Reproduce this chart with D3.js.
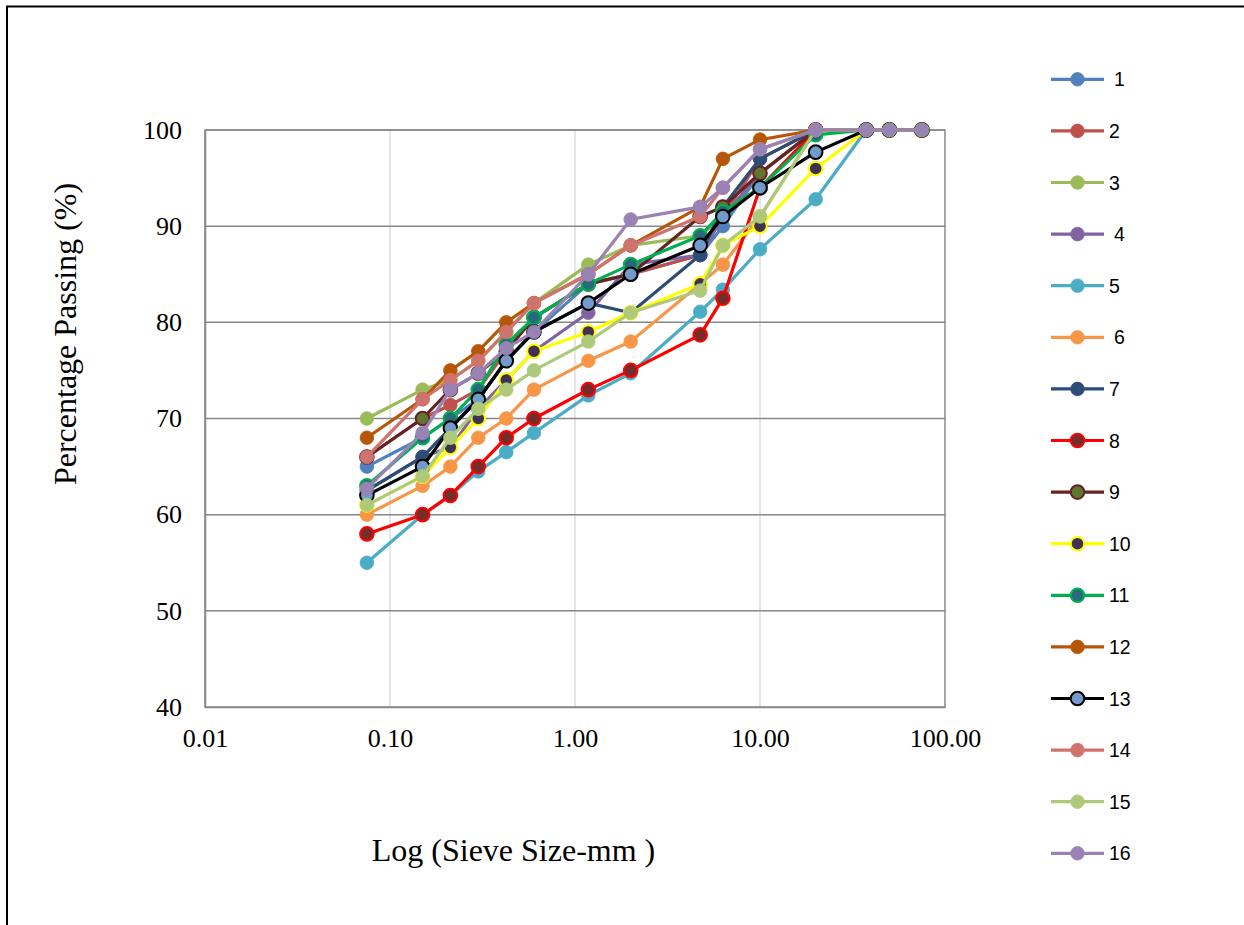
<!DOCTYPE html>
<html><head><meta charset="utf-8">
<script src="https://cdn.jsdelivr.net/npm/d3@7"></script>
<style>body{margin:0;background:#fff}svg{display:block}</style>
</head><body>
<svg id="c" width="1244" height="925"></svg>
<script>
const sieve = [0.075, 0.15, 0.212, 0.3, 0.425, 0.6, 1.18, 2.0, 4.75, 6.3, 10, 20, 37.5, 50, 75];
const s1  = [65, 68, 70, 72, 76, 79, 84, 85, 87, 90, 95.5, 100, 100, 100, 100];
const s2  = [66, 70, 71.4, 73, 77, 80.5, 84, 85, 87, 91, 97, 100, 100, 100, 100];
const s3  = [70, 73, 74, 76, 79, 82, 86, 88, 89, 91, 95.5, 100, 100, 100, 100];
const s4  = [62.5, 66, 67, 71, 74, 77, 81, 86, 87, 91, 95.5, 100, 100, 100, 100];
const s5  = [55, 60, 62, 64.5, 66.5, 68.5, 72.4, 74.7, 81.1, 83.4, 87.6, 92.8, 100, 100, 100];
const s6  = [60, 63, 65, 68, 70, 73, 76, 78, 84, 86, 91, 100, 100, 100, 100];
const s7  = [62.5, 66, 69, 72, 76, 79, 82, 81, 87, 92, 97, 100, 100, 100, 100];
const s8  = [58, 60, 62, 65, 68, 70, 73, 75, 78.7, 82.5, 94, 100, 100, 100, 100];
const s9  = [66, 70, 73, 74.7, 77, 80.5, 84, 85, 91, 92, 95.5, 100, 100, 100, 100];
const s10 = [61, 64, 67, 70, 74, 77, 79, 81, 84, 88, 90, 96, 100, 100, 100];
const s11 = [63, 68, 70, 73, 77.7, 80.5, 84, 86, 89, 91.5, 94, 99.5, 100, 100, 100];
const s12 = [68, 72, 75, 77, 80, 82, 85, 88, 92, 97, 99, 100, 100, 100, 100];
const s13 = [62, 65, 69, 72, 76, 79, 82, 85, 88, 91, 94, 97.7, 100, 100, 100];
const s14 = [66, 72, 74, 76, 79, 82, 85, 88, 91, 94, 98, 100, 100, 100, 100];
const s15 = [61, 64, 68, 71, 73, 75, 78, 81, 83.3, 88, 91, 100, 100, 100, 100];
const s16 = [62.7, 68.5, 73, 74.7, 77.3, 79, 85, 90.7, 92, 94, 98, 100, 100, 100, 100];
const seriesNames = ["1","2","3","4","5","6","7","8","9","10","11","12","13","14","15","16"];
const yTicks = [40, 50, 60, 70, 80, 90, 100];
const xTicks = [0.01, 0.1, 1, 10, 100];
const xTickLabels = ["0.01", "0.10", "1.00", "10.00", "100.00"];

const allSeries = [s1,s2,s3,s4,s5,s6,s7,s8,s9,s10,s11,s12,s13,s14,s15,s16];
// line colour, marker fill, marker stroke
const styles = [
  ["#4F81BD","#4F81BD","#4F81BD"],
  ["#C0504D","#C0504D","#C0504D"],
  ["#9BBB59","#9BBB59","#9BBB59"],
  ["#8064A2","#8064A2","#8064A2"],
  ["#4BACC6","#4BACC6","#4BACC6"],
  ["#F79646","#F79646","#F79646"],
  ["#2C4D75","#2C4D75","#2C4D75"],
  ["#FF0000","#772C2A","#FF0000"],
  ["#632523","#5F7530","#632523"],
  ["#FFFF00","#403152","#FFFF00"],
  ["#00B050","#276A7C","#00B050"],
  ["#B65708","#B65708","#B65708"],
  ["#000000","#729ACA","#000000"],
  ["#D0736F","#D0736F","#D0736F"],
  ["#AFC97A","#AFC97A","#AFC97A"],
  ["#9983B5","#9983B5","#9983B5"]
];
const serif = "'Liberation Serif','Times New Roman',serif";

const svg = d3.select("#c");
// outer frame
svg.append("path").attr("d","M7,925 V6.5 H1244").attr("fill","none").attr("stroke","#000").attr("stroke-width",2);

const x = d3.scaleLog().domain([0.01, 100]).range([205, 945]);
const y = d3.scaleLinear().domain([40, 100]).range([707, 130]);

// vertical gridlines
svg.append("g").selectAll("line").data([0.1,1,10]).join("line")
  .attr("x1", d=>x(d)).attr("x2", d=>x(d)).attr("y1",130).attr("y2",707)
  .attr("stroke","#D9D9D9").attr("stroke-width",1.3);
// horizontal gridlines
svg.append("g").selectAll("line").data(yTicks.filter(d=>d>40)).join("line")
  .attr("x1",205).attr("x2",945).attr("y1",d=>y(d)).attr("y2",d=>y(d))
  .attr("stroke","#878787").attr("stroke-width",1.5);
// plot-area border
svg.append("rect").attr("x",205).attr("y",130).attr("width",740).attr("height",577)
  .attr("fill","none").attr("stroke","#898989").attr("stroke-width",1.5);

// axes
const yAxis = d3.axisLeft(y).tickValues(yTicks).tickSize(0).tickPadding(23);
const gy = svg.append("g").attr("transform","translate(205,0)").call(yAxis);
gy.select(".domain").attr("stroke","#878787").attr("stroke-width",1.5);
gy.selectAll("text").attr("font-family",serif).attr("font-size",26).attr("fill","#000");

const xAxis = d3.axisBottom(x).tickValues(xTicks).tickFormat((d,i)=>xTickLabels[i]).tickSize(0).tickPadding(22);
const gx = svg.append("g").attr("transform","translate(0,707)").call(xAxis);
gx.select(".domain").attr("stroke","#878787").attr("stroke-width",1.5);
gx.selectAll("text").attr("font-family",serif).attr("font-size",26).attr("fill","#000");

// titles
svg.append("text").attr("transform","translate(76,334) rotate(-90)").attr("text-anchor","middle")
  .attr("font-family",serif).attr("font-size",32).text("Percentage Passing (%)");
svg.append("text").attr("x",513.5).attr("y",861).attr("text-anchor","middle")
  .attr("font-family",serif).attr("font-size",32).text("Log (Sieve Size-mm )");

// series
const line = d3.line().x(d=>x(d[0])).y(d=>y(d[1]));
allSeries.forEach((vals, i) => {
  const pts = sieve.map((s, j) => [s, vals[j]]);
  const st = styles[i];
  const g = svg.append("g");
  g.append("path").datum(pts).attr("d", line).attr("fill","none")
    .attr("stroke", st[0]).attr("stroke-width", 3.2).attr("stroke-linejoin","round");
  g.selectAll("circle").data(pts).join("circle")
    .attr("cx", d=>x(d[0])).attr("cy", d=>y(d[1])).attr("r", 6.8)
    .attr("fill", st[1]).attr("stroke", st[2]).attr("stroke-width", st[1]===st[2]?0.8:2);
});

// legend
const lg = svg.append("g");
seriesNames.forEach((name, i) => {
  const ly = 79.3 + i * 51.6;
  const st = styles[i];
  lg.append("line").attr("x1",1051).attr("x2",1104).attr("y1",ly).attr("y2",ly)
    .attr("stroke",st[0]).attr("stroke-width",3.2);
  lg.append("circle").attr("cx",1077.5).attr("cy",ly).attr("r",6.8)
    .attr("fill",st[1]).attr("stroke",st[2]).attr("stroke-width", st[1]===st[2]?0.8:2);
  lg.append("text").attr("x", (name==="1"||name==="4"||name==="6") ? 1114 : 1109).attr("y", ly+7)
    .attr("font-family","'Liberation Sans',Arial,sans-serif").attr("font-size",19.5).text(name);
});
</script>
</body></html>
